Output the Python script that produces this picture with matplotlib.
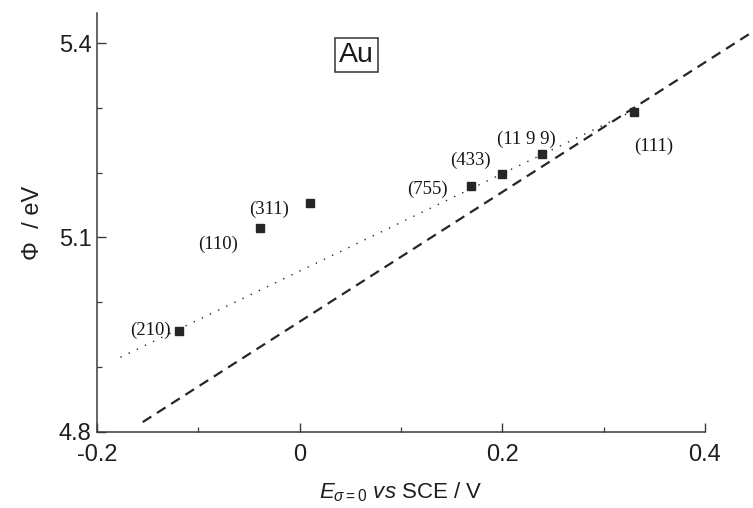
import matplotlib
import matplotlib.pyplot as plt
from matplotlib.ticker import MultipleLocator

matplotlib.use("Agg")

# Au single-crystal faces: potential of zero charge vs work function
faces = ["(210)", "(110)", "(311)", "(755)", "(433)", "(11 9 9)", "(111)"]
e_pzc = [-0.119, -0.039, 0.010, 0.169, 0.200, 0.239, 0.330]
phi = [4.956, 5.114, 5.153, 5.179, 5.198, 5.228, 5.294]

# label offsets (points) for each face
label_dx = [-21, -30, -29.5, -31, -23, -11, 14]
label_dy = [0, -11.5, -4.3, -2, 10, 11, -25]

# dotted fit through the data, dashed slope-1 reference line
fit_x = [-0.177, 0.330]
fit_y = [4.915, 5.296]
ref_x = [-0.155, 0.465]
ref_y = [4.815, 5.435]

INK = "#262626"

plt.rcParams["font.family"] = ["Liberation Sans", "DejaVu Sans"]
plt.rcParams["mathtext.fontset"] = "custom"
plt.rcParams["mathtext.rm"] = "Liberation Sans"
plt.rcParams["mathtext.it"] = "Liberation Sans:italic"

fig = plt.figure(figsize=(7.53, 5.08), dpi=100)
ax = fig.add_axes([0.129, 0.150, 0.807, 0.824])

ax.plot(ref_x, ref_y, color=INK, lw=1.6, linestyle=(0, (4.6, 3.0)),
        clip_on=False, zorder=2)
ax.plot(fit_x, fit_y, color=INK, lw=1.0, linestyle=(0, (1, 5.5)), zorder=2)
ax.plot(e_pzc, phi, "s", color=INK, markersize=6.4, zorder=3)

for name, x, y, dx, dy in zip(faces, e_pzc, phi, label_dx, label_dy):
    ax.annotate(name, (x, y), xytext=(dx, dy), textcoords="offset points",
                ha="center", va="center", fontsize=13.5,
                family="Liberation Serif", color="#161616")

ax.text(0.056, 5.382, "Au", fontsize=20.5, color="#1a1a1a", ha="center",
        va="center",
        bbox=dict(boxstyle="square,pad=0.14", facecolor="white",
                  edgecolor="#333333", lw=1.1))

ax.set_xlim(-0.2, 0.4)
ax.set_ylim(4.8, 5.446)
ax.xaxis.set_minor_locator(MultipleLocator(0.1))
ax.yaxis.set_minor_locator(MultipleLocator(0.1))
ax.set_xticks([-0.2, 0, 0.2, 0.4])
ax.set_xticklabels(["-0.2", "0", "0.2", "0.4"])
ax.set_yticks([4.8, 5.1, 5.4])
ax.set_yticklabels(["4.8", "5.1", "5.4"])

ax.spines["top"].set_visible(False)
ax.spines["right"].set_visible(False)
for side in ("left", "bottom"):
    ax.spines[side].set_color("#3a3a3a")
    ax.spines[side].set_linewidth(1.1)

ax.tick_params(which="major", direction="in", length=6.5, width=1.0,
               colors="#3a3a3a", labelsize=17, labelcolor="#1e1e1e")
ax.tick_params(which="minor", direction="in", length=3.5, width=0.9,
               colors="#3a3a3a")
ax.tick_params(axis="x", which="major", pad=9)
ax.tick_params(axis="y", which="major", pad=4)

ax.set_xlabel(r"$E_{\sigma=0}$ $vs$ SCE / V", fontsize=16, color="#1e1e1e",
              labelpad=10)
ax.set_ylabel("Φ  / eV", fontsize=17, color="#1e1e1e", labelpad=11)

fig.savefig("out.png", dpi=100, facecolor="white")
